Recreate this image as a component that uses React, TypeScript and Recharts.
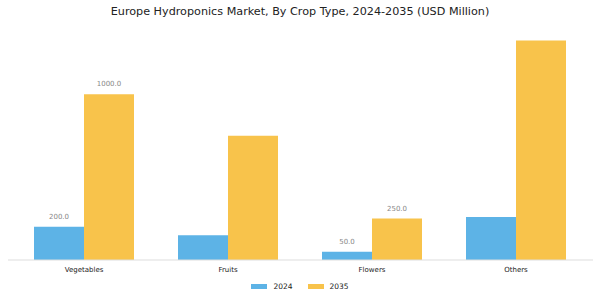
import React from "react";
import { BarChart, Bar, XAxis, YAxis, LabelList } from "recharts";

const cropTypes = ["Vegetables", "Fruits", "Flowers", "Others"];
const values2024 = [200, 150, 50, 260];
const values2035 = [1000, 750, 250, 1325];
// only some bars carry a value label
const labelled2024 = [true, false, true, false];
const labelled2035 = [true, false, true, false];

const COLOR_2024 = "#5db3e6";
const COLOR_2035 = "#f8c34b";
const FONT = "'DejaVu Sans', sans-serif";

const data = cropTypes.map((name, i) => ({
  name,
  y2024: values2024[i],
  y2035: values2035[i],
}));

function makeLabel(flags: boolean[]) {
  return (props: any) => {
    const { x, y, width, value, index } = props;
    if (!flags[index]) return null;
    return (
      <text
        x={x + width / 2}
        y={y - 8}
        textAnchor="middle"
        fontSize={7}
        fill="#888"
        fontFamily={FONT}
      >
        {Number(value).toFixed(1)}
      </text>
    );
  };
}

export default function App() {
  return (
    <div
      style={{
        position: "absolute",
        left: 0,
        top: 0,
        width: 600,
        height: 300,
        background: "#fff",
        fontFamily: FONT,
      }}
    >
      <div
        style={{
          position: "absolute",
          top: 5,
          width: 600,
          textAlign: "center",
          fontSize: 11.2,
          lineHeight: "14px",
          color: "#222",
        }}
      >
        Europe Hydroponics Market, By Crop Type, 2024-2035 (USD Million)
      </div>

      <BarChart
        width={600}
        height={300}
        data={data}
        margin={{ top: 28, right: 7, bottom: 10, left: 8 }}
        barCategoryGap={22}
        barGap={0}
      >
        <XAxis
          dataKey="name"
          height={30}
          tickLine={false}
          tickSize={5}
          axisLine={{ stroke: "#ddd" }}
          padding={{ left: 4, right: 5 }}
          tick={{ fontSize: 7, fill: "#222", fontFamily: FONT }}
          interval={0}
        />
        <YAxis hide domain={[0, 1400]} />
        <Bar dataKey="y2024" fill={COLOR_2024} isAnimationActive={false}>
          <LabelList dataKey="y2024" content={makeLabel(labelled2024)} />
        </Bar>
        <Bar dataKey="y2035" fill={COLOR_2035} isAnimationActive={false}>
          <LabelList dataKey="y2035" content={makeLabel(labelled2035)} />
        </Bar>
      </BarChart>

      <div
        style={{
          position: "absolute",
          top: 281,
          width: 600,
          height: 11,
          display: "flex",
          justifyContent: "center",
          fontSize: 7.5,
          color: "#222",
        }}
      >
        {[
          { label: "2024", color: COLOR_2024 },
          { label: "2035", color: COLOR_2035 },
        ].map((item) => (
          <div
            key={item.label}
            style={{ display: "flex", alignItems: "center", margin: "0 7.5px" }}
          >
            <span
              style={{
                display: "inline-block",
                width: 16,
                height: 5,
                background: item.color,
                marginRight: 6,
              }}
            />
            {item.label}
          </div>
        ))}
      </div>
    </div>
  );
}
